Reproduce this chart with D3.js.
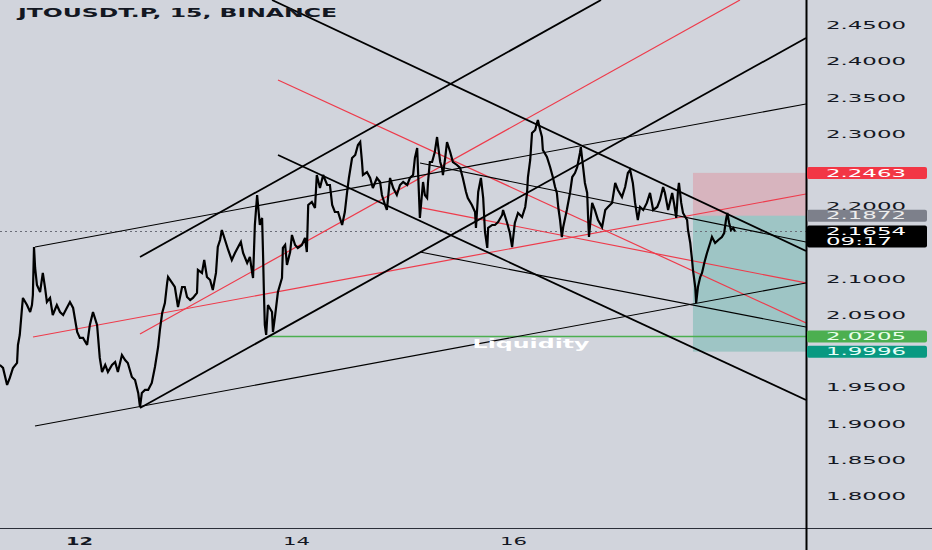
<!DOCTYPE html>
<html><head><meta charset="utf-8">
<script src="https://cdn.jsdelivr.net/npm/d3@7"></script>
<style>html,body{margin:0;padding:0;background:#d1d4dc;}svg{display:block}</style>
</head><body>
<svg id="c" width="932" height="550"></svg>
<script>
// ---------- DATA ----------
const title = "JTOUSDT.P, 15, BINANCE";
// [hours since the 12th 00:00, price]
const bars = [
[-17.5,1.9812],[-16.8,1.9771],[-15.9,1.9536],[-15.3,1.9633],[-14.6,1.9771],[-13.7,1.9840],[-13.5,2.0088],[-13.1,2.0226],[-12.6,2.0599],[-12.4,2.0737],
[-11.5,2.0640],[-10.8,2.0543],[-10.4,2.0640],[-10.2,2.0778],[-9.95,2.1441],[-9.7,2.1151],[-9.3,2.0916],[-8.6,2.0819],[-8.0,2.1082],[-7.5,2.0875],
[-7.1,2.0681],[-6.4,2.0737],[-5.8,2.0502],[-4.9,2.0640],[-4.2,2.0543],[-3.5,2.0502],[-2.7,2.0599],[-2.0,2.0681],[-1.3,2.0599],[-0.4,2.0267],
[0.2,2.0185],[0.9,2.0185],[1.8,2.0088],[2.4,2.0364],[3.1,2.0543],[4.0,2.0364],[4.6,1.9909],[5.1,1.9715],[5.8,1.9812],[6.4,1.9715],
[7.3,1.9812],[8.0,1.9853],[8.6,1.9715],[9.5,1.9950],[10.2,1.9881],
[10.8,1.9840],[11.7,1.9646],[12.4,1.9605],[13.1,1.9426],[13.5,1.9232],[13.9,1.9426],[14.6,1.9467],[15.3,1.9467],[16.1,1.9564],[16.8,1.9784],
[17.5,2.0060],[17.9,2.0295],[18.4,2.0529],[19.0,2.0667],[19.5,2.0944],[19.7,2.1026],[20.6,2.0944],[21.2,2.0888],[21.9,2.0612],[22.8,2.0888],
[23.4,2.0888],[23.9,2.0750],[24.6,2.0709],[25.2,2.0737],[26.1,2.0806],[26.3,2.1123],[27.2,2.1082],[27.7,2.1261],[28.3,2.1026],[29.0,2.0985],
[29.6,2.0847],[30.3,2.1082],[30.7,2.1441],[31.2,2.1537],[31.6,2.1675],[32.3,2.1537],[33.0,2.1399],[33.8,2.1261],[34.5,2.1358],[35.2,2.1441],
[35.8,2.1509],[36.3,2.1358],[37.2,2.1220],[37.8,2.1302],[38.3,2.1082],[38.5,2.1013],
[38.9,2.1744],[39.4,2.2158],[39.6,2.2020],[40.0,2.1744],[40.5,2.1841],[40.7,2.1371],[40.9,2.0819],[41.1,2.0364],[41.4,2.0226],[41.8,2.0640],
[42.7,2.0543],[42.9,2.0267],[43.4,2.0502],[44.0,2.0819],[44.9,2.1013],[45.1,2.1427],[45.6,2.1468],[46.0,2.1192],[46.7,2.1371],[47.1,2.1606],
[47.8,2.1468],[48.4,2.1427],[49.3,2.1468],[50.0,2.1565],[50.4,2.1371],[50.7,2.2020],[51.5,2.2061],[52.2,2.1979],[52.6,2.2434],[53.3,2.2254],
[54.0,2.2434],[54.9,2.2296],[55.5,2.2296],[56.0,2.2020],[56.6,2.1923],[57.3,2.1923],[58.2,2.1744],[58.8,2.1923],[59.3,2.2199],[59.7,2.2393],
[60.4,2.2669],[61.1,2.2710],[61.7,2.2848],[62.2,2.2889],[62.6,2.2613],[62.8,2.2434],[63.7,2.2475],[64.4,2.2393],[65.0,2.2254],[65.9,2.2393],
[66.6,2.2337],
[67.0,2.2158],[67.7,2.2020],[68.1,2.1951],[68.8,2.2393],[69.5,2.2254],[70.3,2.2158],[71.0,2.2296],[71.7,2.2337],[72.6,2.2296],[73.2,2.2393],
[73.9,2.2434],[74.3,2.2669],[74.8,2.2807],[75.0,2.2475],[75.4,2.1841],[75.9,2.2199],[76.1,2.2337],[76.5,2.2158],[77.0,2.2117],[77.2,2.2337],
[77.6,2.2613],[78.1,2.2613],[78.7,2.2751],[79.2,2.2958],[79.4,2.2848],[79.9,2.2613],[80.3,2.2531],[80.5,2.2434],[81.0,2.2669],[81.4,2.2889],
[82.1,2.2751],[82.7,2.2613],[83.6,2.2572],[84.3,2.2531],[84.9,2.2393],[85.6,2.2199],[86.0,2.2117],[86.9,2.2020],[87.6,2.1923],[87.8,2.1703],
[88.3,2.2199],[88.9,2.2393],[89.4,2.2117],[89.8,2.1647],[90.3,2.1427],[90.5,2.1703],[91.4,2.1744],[92.0,2.1744],[92.7,2.1785],[93.6,2.1882],
[93.8,2.1951],[94.7,2.1772],[95.3,2.1634],[95.8,2.1440],[96.4,2.1772],[97.1,2.1910],[98.0,2.1854],[98.7,2.1992],[99.1,2.2186],[99.3,2.2406],
[99.8,2.2641],[100.2,2.3014],[100.9,2.3055],[101.3,2.3152],[101.5,2.3193],[102.0,2.3055],[102.4,2.2958],[102.6,2.2779],[103.5,2.2682],[104.2,2.2544],
[104.8,2.2406],[105.3,2.2268],[105.7,2.2186],[106.0,2.1992],[106.4,2.1813],[106.8,2.1578],[107.1,2.1716],[107.9,2.1951],[108.6,2.2186],[109.1,2.2406],
[109.7,2.2461],[110.2,2.2544],[110.8,2.2738],[111.0,2.2820],[111.5,2.2544],[111.9,2.2324],[112.4,2.2186],[112.6,2.1854],[112.8,2.1578],[113.5,2.2048],
[114.1,2.1951],[114.8,2.1813],[115.7,2.1716],[116.4,2.1951],[117.0,2.1992],[117.9,2.2048],[118.6,2.2324],[119.2,2.2227],[120.1,2.2131],[120.8,2.2268],
[121.4,2.2461],[121.9,2.2503],[122.5,2.2324],[123.0,2.2048],[123.6,2.1813],[124.1,2.1992],[124.8,2.1951],[125.6,2.2048],[126.3,2.2186],[127.0,2.1951],
[127.9,2.1992],[128.5,2.2089],[129.2,2.2268],[129.6,2.2186],[130.3,2.1951],[131.2,2.2186],[131.6,2.2048],[132.1,2.1841],[132.5,2.2227],[132.7,2.2324],
[133.2,2.2048],[133.6,2.1910],[134.5,2.1813],[134.7,2.1675],[135.2,2.1495],[135.6,2.1261],[135.8,2.1123],[136.3,2.0888],[136.5,2.0667],[136.9,2.0888],
[137.4,2.1026],[137.8,2.1082],[138.3,2.1220],[138.9,2.1358],[139.6,2.1495],[140.0,2.1578],[140.7,2.1495],[141.4,2.1537],[142.2,2.1578],[142.7,2.1633],
[143.1,2.1813],[143.4,2.1910],[143.8,2.1772],[144.2,2.1675],[144.7,2.1703],[145.1,2.1654]
];
const viewHours = [-17.47, 160.8];
const viewPrices = [1.7562, 2.4849];
const priceTicks = [2.45, 2.40, 2.35, 2.30, 2.20, 2.10, 2.05, 1.95, 1.90, 1.85, 1.80];
const dayTicks = [0, 48, 96];            // the 12th, 14th, 16th at 00:00
const dayLabels = ["12", "14", "16"];
// drawn trend lines: [startHour, startPrice, endHour, endPrice]
const blackThick = [
  [13.49, 1.9219, 160.8, 2.4325],
  [13.49, 2.1302, 115.46, 2.4849],
  [42.69, 2.4849, 160.8, 2.1385],
  [44.02, 2.2710, 160.8, 1.9329]
];
const blackThin = [
  [-9.73, 2.1440, 160.8, 2.3414],
  [-9.73, 1.8970, 160.8, 2.0944],
  [75.43, 2.2600, 160.8, 2.1509],
  [75.43, 2.1371, 160.8, 2.0336]
];
const redLines = [
  [-10.17, 2.0198, 160.8, 2.2172],
  [13.49, 2.0240, 146.2, 2.4849],
  [44.02, 2.3745, 160.8, 2.0392],
  [75.87, 2.1979, 160.8, 2.0944]
];
const liquidity = {price: 2.0205, fromHour: 41.8, label: "Liquidity", labelHour: 100};
const position = {fromHour: 135.8, stop: 2.2463, entry: 2.1872, target: 1.9996};
const lastPrice = 2.1654;
const countdown = "09:17";

// ---------- CHART ----------
const W = 932, H = 550, PW = 806, PH = 528;
const t0 = Date.UTC(2024, 0, 12);
const D = h => new Date(t0 + h * 3600000);
const x = d3.scaleUtc().domain(viewHours.map(D)).range([0, PW]);
const y = d3.scaleLinear().domain(viewPrices).range([PH, 0]);
const FONT = "'DejaVu Sans', 'Liberation Sans', sans-serif";
const svg = d3.select("#c");
svg.append("rect").attr("width", W).attr("height", H).attr("fill", "#d1d4dc");
svg.append("defs").append("clipPath").attr("id", "clip")
  .append("rect").attr("width", PW).attr("height", PH);
const g = svg.append("g").attr("clip-path", "url(#clip)");

// position boxes
g.append("rect").attr("x", x(D(position.fromHour))).attr("width", PW - x(D(position.fromHour)))
  .attr("y", y(position.stop)).attr("height", y(position.entry) - y(position.stop))
  .attr("fill", "rgba(242,54,69,0.2)");
g.append("rect").attr("x", x(D(position.fromHour))).attr("width", PW - x(D(position.fromHour)))
  .attr("y", y(position.entry)).attr("height", y(position.target) - y(position.entry))
  .attr("fill", "rgba(8,153,129,0.25)");

// last price dotted line
g.append("line").attr("x1", 0).attr("x2", PW).attr("y1", y(lastPrice)).attr("y2", y(lastPrice))
  .attr("stroke", "#6a6d78").attr("stroke-width", 1).attr("stroke-dasharray", "2,3");

function drawLines(arr, color, w) {
  g.selectAll(null).data(arr).enter().append("line")
    .attr("x1", d => x(D(d[0]))).attr("y1", d => y(d[1]))
    .attr("x2", d => x(D(d[2]))).attr("y2", d => y(d[3]))
    .attr("stroke", color).attr("stroke-width", w);
}
drawLines(redLines, "#ee3b4b", 1.2);

// liquidity line
g.append("line").attr("x1", x(D(liquidity.fromHour))).attr("x2", PW)
  .attr("y1", y(liquidity.price)).attr("y2", y(liquidity.price))
  .attr("stroke", "#4caf50").attr("stroke-width", 1.5);

// price
g.append("path").datum(bars)
  .attr("d", d3.line().x(d => x(D(d[0]))).y(d => y(d[1])))
  .attr("fill", "none").attr("stroke", "#000").attr("stroke-width", 2.2)
  .attr("stroke-linejoin", "miter").attr("stroke-miterlimit", 3);

drawLines(blackThin, "#000", 1.1);
drawLines(blackThick, "#000", 1.8);

g.append("text").text(liquidity.label)
  .attr("x", x(D(liquidity.labelHour))).attr("y", y(liquidity.price) + 12)
  .attr("text-anchor", "middle").attr("font-family", FONT).attr("font-weight", "bold")
  .attr("font-size", 11.5).attr("fill", "#fff")
  .attr("textLength", 117).attr("lengthAdjust", "spacingAndGlyphs");

// title
svg.append("text").text(title).attr("x", 18).attr("y", 17)
  .attr("font-family", FONT).attr("font-weight", "bold").attr("font-size", 12)
  .attr("fill", "#131722").attr("textLength", 319).attr("lengthAdjust", "spacingAndGlyphs");

// price axis
const ya = svg.append("g").attr("transform", `translate(${PW + 20},0)`)
  .call(d3.axisRight(y).tickValues(priceTicks).tickSize(0).tickFormat(d3.format(".4f")));
ya.select(".domain").remove();
ya.selectAll("text").attr("x", 0).attr("font-family", FONT).attr("font-size", 10.5)
  .attr("fill", "#131722").attr("textLength", 80).attr("lengthAdjust", "spacingAndGlyphs");

// time axis
const xa = svg.append("g").attr("transform", `translate(0,${PH})`)
  .call(d3.axisBottom(x).tickValues(dayTicks.map(D)).tickSize(0)
    .tickFormat((d, i) => dayLabels[i]));
xa.select(".domain").remove();
xa.selectAll("text").attr("y", 9).attr("dy", "0.71em").attr("font-family", FONT).attr("font-size", 11)
  .attr("fill", "#131722").attr("textLength", 27).attr("lengthAdjust", "spacingAndGlyphs")
  .attr("font-weight", (d, i) => i === 0 ? "bold" : "normal");

// borders
svg.append("line").attr("x1", 0).attr("x2", W).attr("y1", PH + 0.5).attr("y2", PH + 0.5)
  .attr("stroke", "#2a2e39").attr("stroke-width", 1.2);
svg.append("line").attr("x1", PW + 0.5).attr("x2", PW + 0.5).attr("y1", 0).attr("y2", H)
  .attr("stroke", "#000").attr("stroke-width", 2);

// price labels
const labels = [
  {p: position.stop, c: "#f23645", t: "#ffffff"},
  {p: position.entry, c: "#7d808b", t: "#eeeeee"},
  {p: liquidity.price, c: "#4caf50", t: "#eaffea"},
  {p: position.target, c: "#089981", t: "#e6fff8"}
];
labels.forEach(l => {
  svg.append("rect").attr("x", PW + 1).attr("y", y(l.p) - 6).attr("width", 120).attr("height", 12)
    .attr("rx", 2).attr("fill", l.c);
  svg.append("text").text(d3.format(".4f")(l.p)).attr("x", PW + 20).attr("y", y(l.p)).attr("dy", "0.36em")
    .attr("font-family", FONT).attr("font-size", 10.5).attr("fill", l.t)
    .attr("textLength", 80).attr("lengthAdjust", "spacingAndGlyphs");
});
svg.append("rect").attr("x", PW + 1).attr("y", y(lastPrice) - 6).attr("width", 120).attr("height", 22)
  .attr("rx", 2).attr("fill", "#000");
svg.append("text").text(d3.format(".4f")(lastPrice)).attr("x", PW + 20).attr("y", y(lastPrice) - 0.5).attr("dy", "0.36em")
  .attr("font-family", FONT).attr("font-size", 10).attr("fill", "#fff")
  .attr("textLength", 80).attr("lengthAdjust", "spacingAndGlyphs");
svg.append("text").text(countdown).attr("x", PW + 20).attr("y", y(lastPrice) + 10).attr("dy", "0.36em")
  .attr("font-family", FONT).attr("font-size", 10).attr("fill", "#fff")
  .attr("textLength", 66).attr("lengthAdjust", "spacingAndGlyphs");
</script>
</body></html>
